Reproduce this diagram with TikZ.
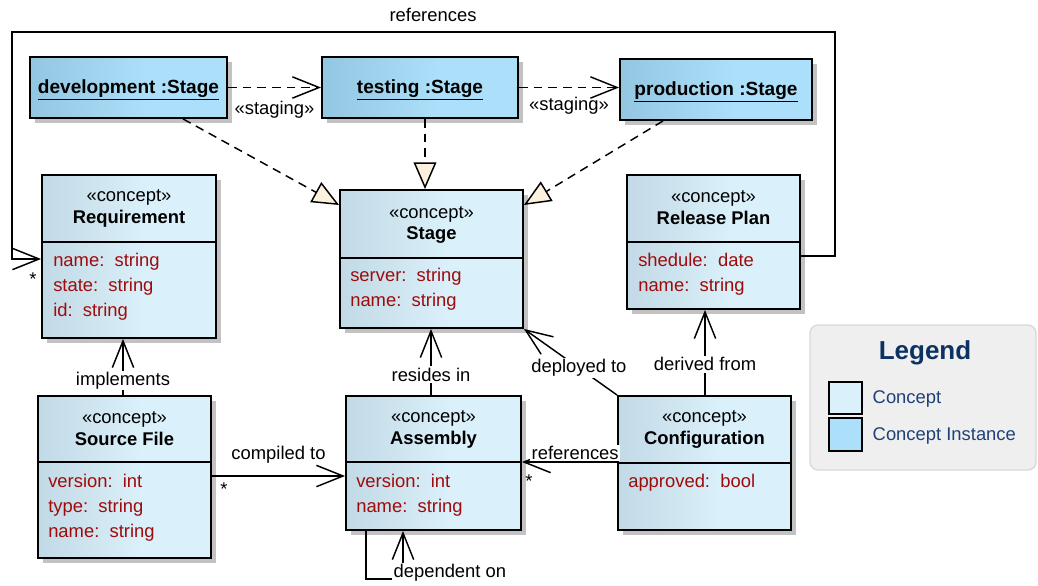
\documentclass[tikz,border=0pt]{standalone}
\usepackage{fontspec}
\setmainfont{Liberation Sans}
\usetikzlibrary{arrows.meta,shadows,fit}
\definecolor{conceptL}{HTML}{C2DAE6}
\definecolor{conceptR}{HTML}{DAF0FA}
\definecolor{instL}{HTML}{92C6E1}
\definecolor{instR}{HTML}{ACE0FA}
\definecolor{attrred}{HTML}{9E0B0B}
\definecolor{tricream}{HTML}{FCF0DE}
\definecolor{shadowgray}{HTML}{C2C2C2}
\definecolor{legendbg}{HTML}{EFEFEF}
\definecolor{legendline}{HTML}{D8D8D8}
\definecolor{legendblue}{HTML}{0C3162}
\definecolor{legendtext}{HTML}{1E4177}
\pgfdeclarehorizontalshading{conceptshading}{100bp}{color(0bp)=(conceptL); color(25bp)=(conceptL); color(55bp)=(conceptR); color(100bp)=(conceptR)}
\pgfdeclarehorizontalshading{instshading}{100bp}{color(0bp)=(instL); color(25bp)=(instL); color(55bp)=(instR); color(100bp)=(instR)}
\newcommand{\instname}[1]{\raisebox{-4.5pt}[0pt][0pt]{\underline{\textbf{#1}}}}
\tikzset{%
    concept/.style={draw, line width=1.4pt, shading=conceptshading, inner sep=0pt,
        drop shadow={shadow xshift=3.8pt, shadow yshift=-3.8pt, fill=shadowgray, opacity=1}},
    instance/.style={concept, shading=instshading, font=\fontsize{14.3}{16.5}\selectfont},
    sep/.style={line width=1.4pt},
    head/.style={align=center, inner sep=0pt},
    attrs/.style={align=left, anchor=west, inner sep=0pt, text=attrred,
        font=\fontsize{13.8}{18.75}\selectfont},
    lbl/.style={fill=white, inner sep=1pt},
    assoc/.style={line width=1.1pt, -{Straight Barb[length=20pt, width=16pt]}},
    depend/.style={assoc, dash pattern=on 6.5pt off 4.5pt},
    realize/.style={line width=1.1pt, dash pattern=on 6.5pt off 4.5pt,
        -{Triangle[fill=tricream, length=20pt, width=17pt]}}
}

\begin{document}
\begin{tikzpicture}[x=0.75pt, y=-0.75pt, font=\fontsize{13.8}{16.5}\selectfont]
    \useasboundingbox (0,0) rectangle (1038,585);
    % stage instances
    \node[instance, fit={(30,57) (227,118)}] (dev) {\instname{development :Stage}};
    \node[instance, fit={(322,57) (518,118)}] (test) {\instname{testing :Stage}};
    \node[instance, fit={(620,59) (812,120)}] (prod) {\instname{production :Stage}};
    % concepts
    \node[concept, fit={(42,175) (216,338)}] (req) {};
    \node[head] (req-head) at (129,208) {«concept»\\\textbf{Requirement}};
    \draw[sep] (req.west |- 0,242) -- (req.east |- 0,242);
    \node[attrs] (req-attrs) at (53,287) {name:\ \ string\\state:\ \ string\\id:\ \ string};

    \node[concept, fit={(340,190) (523,328)}] (stage) {};
    \node[head] (stage-head) at (431.5,225) {«concept»\\\textbf{Stage}};
    \draw[sep] (stage.west |- 0,258) -- (stage.east |- 0,258);
    \node[attrs] (stage-attrs) at (350,289) {server:\ \ string\\name:\ \ string};

    \node[concept, fit={(627,175) (800,309)}] (rel) {};
    \node[head] (rel-head) at (713.5,208) {«concept»\\\textbf{Release Plan}};
    \draw[sep] (rel.west |- 0,242) -- (rel.east |- 0,242);
    \node[attrs] (rel-attrs) at (638,274.5) {shedule:\ \ date\\name:\ \ string};

    \node[concept, fit={(38,396) (211,558)}] (src) {};
    \node[head] (src-head) at (124.5,429) {«concept»\\\textbf{Source File}};
    \draw[sep] (src.west |- 0,462) -- (src.east |- 0,462);
    \node[attrs] (src-attrs) at (48,508) {version:\ \ int\\type:\ \ string\\name:\ \ string};

    \node[concept, fit={(346,396) (521,530)}] (asm) {};
    \node[head] (asm-head) at (433.5,429) {«concept»\\\textbf{Assembly}};
    \draw[sep] (asm.west |- 0,462) -- (asm.east |- 0,462);
    \node[attrs] (asm-attrs) at (356,495.5) {version:\ \ int\\name:\ \ string};

    \node[concept, fit={(618,396) (791,530)}] (cfg) {};
    \node[head] (cfg-head) at (704.5,429) {«concept»\\\textbf{Configuration}};
    \draw[sep] (cfg.west |- 0,463) -- (cfg.east |- 0,463);
    \node[attrs] (cfg-attrs) at (628,483) {approved:\ \ bool};

    % staging chain
    \draw[depend] (dev.east) -- (test.west) node[midway, below=6pt] (stg1) {«staging»};
    \draw[depend] (test.east) -- (test.east -| prod.west) node[midway, below=3pt] (stg2) {«staging»};
    % instances of Stage
    \draw[realize] (dev.south -| 183,0) -- (stage.west |- 0,205);
    \draw[realize] (test.south -| 425,0) -- (stage.north -| 425,0);
    \draw[realize] (prod.south -| 663,0) -- (stage.east |- 0,205);

    % associations
    \draw[assoc] (rel.east |- 0,256) -| (835,32) -| (12,259) -- (req.west |- 0,259);
    \node (refs-top) at (433,15) {references};
    \node (m-req) at (33,279) {*};
    \draw[assoc] (src.north -| 123,0) -- (req.south -| 123,0) node[lbl, pos=0.26] (impl) {implements};
    \draw[assoc] (src.east |- 0,476) -- (asm.west |- 0,476) node[midway, above=6pt] (comp) {compiled to};
    \node (m-src) at (224,489) {*};
    \draw[assoc] (asm.north -| 431,0) -- (stage.south -| 431,0) node[lbl, pos=0.31] (res) {resides in};
    \draw[assoc] (cfg.north west) -- (stage.south east) node[lbl, pos=0.41] (depl) {deployed to};
    \draw[assoc] (cfg.north -| 705,0) -- (rel.south -| 705,0) node[lbl, pos=0.36] (der) {derived from};
    \draw[assoc] (cfg.west |- 0,462) -- (asm.east |- 0,462) node[lbl, pos=0.44, above=0pt] (refs-low) {references};
    \node (m-asm) at (529,481) {*};
    \draw[assoc] (asm.south -| 366,0) -- (366,579) -- (403,579) -- (asm.south -| 403,0);
    \node[lbl, anchor=west] (dep) at (392,573) {dependent on};

    % legend
    \draw[legendline, fill=legendbg, rounded corners=6pt, line width=1pt] (810,325) rectangle (1036,470);
    \node[text=legendblue, font=\fontsize{19.5}{22}\selectfont\bfseries] (legend) at (925,353) {Legend};
    \draw[line width=1.4pt, fill=conceptR] (829,382) rectangle (862,414);
    \draw[line width=1.4pt, fill=instR] (829,418) rectangle (862,451);
    \node[anchor=west, text=legendtext] (leg-concept) at (868,399) {Concept};
    \node[anchor=west, text=legendtext] (leg-inst) at (868,436) {Concept Instance};
\end{tikzpicture}
\end{document}
